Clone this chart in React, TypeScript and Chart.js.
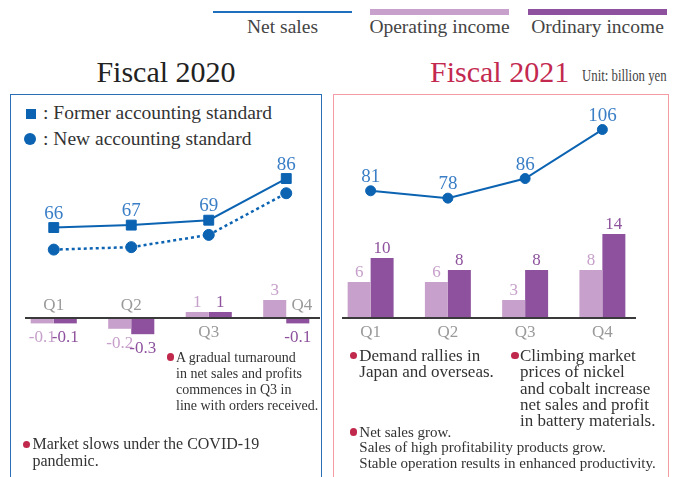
import React, { useEffect, useRef } from 'react';
import { Chart, registerables, LinearScale } from 'chart.js';

// ---------- Data (billion yen) ----------
const quarters = ['Q1', 'Q2', 'Q3', 'Q4'];
const netSales2020Former = [66, 67, 69, 86];
const netSales2020New = [57, 58, 63, 80];
const operatingIncome2020 = [-0.1, -0.2, 1, 3];
const ordinaryIncome2020 = [-0.1, -0.3, 1, -0.1];
const netSales2021 = [81, 78, 86, 106];
const operatingIncome2021 = [6, 6, 3, 8];
const ordinaryIncome2021 = [10, 8, 8, 14];

// ---------- Styles ----------
const SERIF = '"Liberation Serif", "Times New Roman", serif';
const LINE_BLUE = '#0b63b2';
const LABEL_BLUE = '#3a7ec6';
const OP_COLOR = '#c7a1cb';
const ORD_COLOR = '#8d519d';
const CRIMSON = '#c0284c';
const TEXT = '#333333';
const Q_GRAY = '#9a9a9a';

// Linear scale that stretches negative values (illustrative exaggeration used in the original).
class SplitLinearScale extends LinearScale {
  static id = 'splitLinear';
  getPixelForValue(value: number) {
    const f = (this.options as any).negativeFactor ?? 1;
    return super.getPixelForValue(value < 0 ? value * f : value);
  }
}

Chart.register(...registerables, SplitLinearScale as any);

const labelPlugin = {
  id: 'valueLabels',
  afterDatasetsDraw(chart: any) {
    const ctx = chart.ctx as CanvasRenderingContext2D;
    const area = chart.chartArea;
    const xs = chart.scales.x;
    const yb = chart.scales.yb;
    const zero = yb.getPixelForValue(0);
    ctx.save();
    // baseline axis
    ctx.strokeStyle = '#3a3a3a';
    ctx.lineWidth = 2;
    ctx.beginPath();
    ctx.moveTo(area.left + 10, zero);
    ctx.lineTo(area.right - 5, zero);
    ctx.stroke();

    ctx.textAlign = 'center';
    ctx.textBaseline = 'alphabetic';
    let opVals: number[] = [];
    let ordVals: number[] = [];
    let ordMeta: any = null;
    chart.data.datasets.forEach((ds: any, i: number) => {
      const meta = chart.getDatasetMeta(i);
      if (ds.role === 'op') opVals = ds.data;
      if (ds.role === 'ord') { ordVals = ds.data; ordMeta = meta; }
      if (ds.type === 'line') {
        if (!ds.showValues) return;
        ctx.font = `19px ${SERIF}`;
        ctx.fillStyle = LABEL_BLUE;
        meta.data.forEach((pt: any, j: number) => {
          ctx.fillText(String(ds.data[j]), pt.x, pt.y - 9);
        });
      } else {
        ctx.font = `17px ${SERIF}`;
        ctx.fillStyle = ds.labelColor;
        meta.data.forEach((bar: any, j: number) => {
          const v = ds.data[j];
          const y = v >= 0 ? bar.y - 4.5 : bar.y + 19;
          ctx.fillText(String(v), bar.x, y);
        });
      }
    });
    // Quarter labels
    ctx.font = `17px ${SERIF}`;
    ctx.fillStyle = Q_GRAY;
    quarters.forEach((q, j) => {
      const op = opVals[j];
      const ord = ordVals[j];
      let x = xs.getPixelForValue(j);
      let y: number;
      if (op >= 0 && ord >= 0) {
        y = zero + 19;
      } else {
        y = zero - 8;
        if (op > 0 && ord < 0 && ordMeta) x = ordMeta.data[j].x + 4;
      }
      ctx.fillText(q, x, y);
    });
    ctx.restore();
  },
};

function makeChart(canvas: HTMLCanvasElement, lines: any[], ops: number[], ords: number[], negFactor: number) {
  return new Chart(canvas, {
    type: 'bar',
    data: {
      labels: quarters,
      datasets: [
        {
          type: 'bar',
          role: 'op',
          label: 'Operating income',
          data: ops,
          backgroundColor: OP_COLOR,
          labelColor: OP_COLOR,
          borderWidth: 0,
          barPercentage: 1,
          categoryPercentage: 0.595,
          yAxisID: 'yb',
        } as any,
        {
          type: 'bar',
          role: 'ord',
          label: 'Ordinary income',
          data: ords,
          backgroundColor: ORD_COLOR,
          labelColor: ORD_COLOR,
          borderWidth: 0,
          barPercentage: 1,
          categoryPercentage: 0.595,
          yAxisID: 'yb',
        } as any,
        ...lines,
      ],
    },
    options: {
      responsive: false,
      animation: false,
      devicePixelRatio: 1,
      events: [],
      layout: { padding: 0, autoPadding: false },
      plugins: { legend: { display: false }, tooltip: { enabled: false } },
      scales: {
        x: { type: 'category', display: false, offset: true },
        yl: { type: 'linear', display: false, min: -35.8, max: 120.5 },
        yb: { type: 'splitLinear', display: false, min: -26.5, max: 37.33, negativeFactor: negFactor } as any,
      },
    } as any,
    plugins: [labelPlugin],
  });
}

function lineDataset(label: string, data: number[], opts: any) {
  return {
    type: 'line',
    label,
    data,
    yAxisID: 'yl',
    borderColor: LINE_BLUE,
    backgroundColor: LINE_BLUE,
    pointBackgroundColor: LINE_BLUE,
    pointBorderColor: LINE_BLUE,
    pointBorderWidth: 1,
    fill: false,
    tension: 0,
    ...opts,
  };
}

function T(props: { x: number; y: number; fs: number; color?: string; align?: 'left' | 'center'; sx?: number; children: any }) {
  const { x, y, fs, color = TEXT, align = 'left', sx, children } = props;
  const style: any = {
    position: 'absolute',
    top: y - 0.8375 * fs,
    fontSize: fs,
    lineHeight: `${fs}px`,
    color,
    whiteSpace: 'pre',
    fontFamily: SERIF,
  };
  if (align === 'center') {
    style.left = x - 300;
    style.width = 600;
    style.textAlign = 'center';
  } else {
    style.left = x;
  }
  if (sx) {
    style.transform = `scaleX(${sx})`;
    style.transformOrigin = 'left';
  }
  return <div style={style}>{children}</div>;
}

function Bullet({ cx, cy }: { cx: number; cy: number }) {
  const d = 7.5;
  return (
    <div
      style={{
        position: 'absolute',
        left: cx - d / 2,
        top: cy - d / 2,
        width: d,
        height: d,
        borderRadius: '50%',
        background: CRIMSON,
      }}
    />
  );
}

function Para({ x, y, fs, lh, lines }: { x: number; y: number; fs: number; lh: number; lines: string[] }) {
  return (
    <>
      {lines.map((l, i) => (
        <T key={i} x={x} y={y + i * lh} fs={fs}>
          {l}
        </T>
      ))}
    </>
  );
}

export default function App() {
  const leftRef = useRef<HTMLCanvasElement>(null);
  const rightRef = useRef<HTMLCanvasElement>(null);

  useEffect(() => {
    const left = makeChart(
      leftRef.current!,
      [
        lineDataset('Net sales (former standard)', netSales2020Former, {
          borderWidth: 2,
          pointStyle: 'rect',
          pointRadius: 7,
          showValues: true,
        }),
        lineDataset('Net sales (new standard)', netSales2020New, {
          borderWidth: 2.5,
          borderDash: [3, 3],
          pointStyle: 'circle',
          pointRadius: 5.5,
          showValues: false,
        }),
      ],
      operatingIncome2020,
      ordinaryIncome2020,
      9
    );
    const right = makeChart(
      rightRef.current!,
      [
        lineDataset('Net sales', netSales2021, {
          borderWidth: 2,
          pointStyle: 'circle',
          pointRadius: 5,
          showValues: true,
        }),
      ],
      operatingIncome2021,
      ordinaryIncome2021,
      1
    );
    return () => {
      left.destroy();
      right.destroy();
    };
  }, []);

  return (
    <div
      style={{
        position: 'fixed',
        left: 0,
        top: 0,
        width: 674,
        height: 477,
        overflow: 'hidden',
        background: '#ffffff',
        fontFamily: SERIF,
      }}
    >
      {/* Top legend */}
      <div style={{ position: 'absolute', left: 213, top: 11, width: 139, height: 2, background: '#1e70bf' }} />
      <T x={282.5} y={33} fs={19.5} color="#444" align="center">Net sales</T>
      <div style={{ position: 'absolute', left: 370, top: 9, width: 139, height: 6, background: OP_COLOR }} />
      <T x={439.5} y={33} fs={19.5} color="#444" align="center">Operating income</T>
      <div style={{ position: 'absolute', left: 528, top: 9, width: 139, height: 6, background: ORD_COLOR }} />
      <T x={597.5} y={33} fs={19.5} color="#444" align="center">Ordinary income</T>

      {/* Titles */}
      <T x={166} y={82} fs={30} color="#222" align="center">Fiscal 2020</T>
      <T x={430} y={82} fs={30} color="#c3294f">Fiscal 2021</T>
      <T x={582} y={81} fs={16} sx={0.8} color="#444">Unit: billion yen</T>

      {/* Panels */}
      <div
        style={{
          position: 'absolute',
          left: 10,
          top: 94,
          width: 312,
          height: 420,
          border: '1.5px solid #2a6fb6',
          boxSizing: 'border-box',
        }}
      />
      <div
        style={{
          position: 'absolute',
          left: 332.5,
          top: 94,
          width: 336,
          height: 420,
          border: '1.5px solid #f29ca4',
          boxSizing: 'border-box',
        }}
      />

      {/* Left panel legend */}
      <div style={{ position: 'absolute', left: 26, top: 108.5, width: 10, height: 10, background: LINE_BLUE }} />
      <T x={43} y={119.5} fs={19.5}>: Former accounting standard</T>
      <div
        style={{ position: 'absolute', left: 24, top: 133, width: 12, height: 12, borderRadius: '50%', background: LINE_BLUE }}
      />
      <T x={43} y={145} fs={19.5}>: New accounting standard</T>

      {/* Charts */}
      <canvas ref={leftRef} width={310} height={383} style={{ position: 'absolute', left: 15, top: 94 }} />
      <canvas ref={rightRef} width={309} height={383} style={{ position: 'absolute', left: 332, top: 94 }} />

      {/* Left annotations */}
      <Bullet cx={170.3} cy={357} />
      <Para
        x={176}
        y={363}
        fs={14}
        lh={16}
        lines={['A gradual turnaround', 'in net sales and profits', 'commences in Q3 in', 'line with orders received.']}
      />
      <Bullet cx={26.7} cy={444.7} />
      <Para x={32.5} y={449.5} fs={16} lh={17} lines={['Market slows under the COVID-19', 'pandemic.']} />

      {/* Right annotations */}
      <Bullet cx={353.3} cy={355.5} />
      <Para x={359.3} y={361.5} fs={17} lh={16.2} lines={['Demand rallies in', 'Japan and overseas.']} />
      <Bullet cx={515} cy={355.5} />
      <Para
        x={520}
        y={361.5}
        fs={17}
        lh={16.2}
        lines={['Climbing market', 'prices of nickel', 'and cobalt increase', 'net sales and profit', 'in battery materials.']}
      />
      <Bullet cx={353.3} cy={432.2} />
      <Para
        x={359.3}
        y={437.7}
        fs={15}
        lh={15.3}
        lines={['Net sales grow.', 'Sales of high profitability products grow.', 'Stable operation results in enhanced productivity.']}
      />
    </div>
  );
}
